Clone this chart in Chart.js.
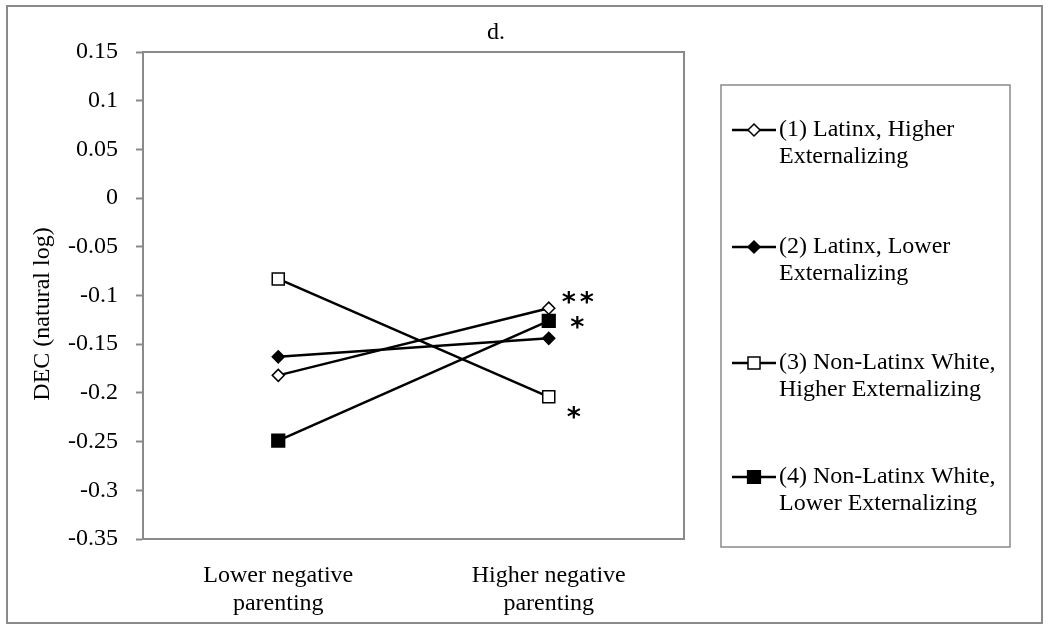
<!DOCTYPE html>
<html>
<head>
<meta charset="utf-8">
<title>d.</title>
<script src="https://cdn.jsdelivr.net/npm/chart.js@4.4.1/dist/chart.umd.min.js"></script>
<style>
  html, body { margin: 0; padding: 0; background: #fff; }
  canvas { display: block; }
</style>
</head>
<body>
<canvas id="chart" width="1050" height="633"></canvas>
<script>
// ── Data ───────────────────────────────────────────────────────────────────
const CATEGORIES = [["Lower negative", "parenting"], ["Higher negative", "parenting"]];

const LATINX_HIGHER_EXT    = [-0.182, -0.113];
const LATINX_LOWER_EXT     = [-0.163, -0.144];
const NONLATINX_HIGHER_EXT = [-0.083, -0.204];
const NONLATINX_LOWER_EXT  = [-0.249, -0.126];

const SERIES_LABELS = [
  ["(1) Latinx, Higher", "Externalizing"],
  ["(2) Latinx, Lower", "Externalizing"],
  ["(3) Non-Latinx White,", "Higher Externalizing"],
  ["(4) Non-Latinx White,", "Lower Externalizing"],
];

// significance marks at "Higher negative parenting"
const SIG_MARKS = ["**", "", "*", "*"];

const Y_TICKS       = [-0.35, -0.3, -0.25, -0.2, -0.15, -0.1, -0.05, 0, 0.05, 0.1, 0.15];
const Y_TICK_LABELS = ["-0.35", "-0.3", "-0.25", "-0.2", "-0.15", "-0.1", "-0.05", "0", "0.05", "0.1", "0.15"];

const CHART_TITLE = "d.";
const Y_TITLE = "DEC (natural log)";

// ── Styles ─────────────────────────────────────────────────────────────────
const SERIF = "'Liberation Serif', 'Times New Roman', serif";
const GRAY = "#8a8a8a";

const MARKERS = [
  { style: "rectRot", radius: 6,   fill: "#ffffff" },
  { style: "rectRot", radius: 6,   fill: "#000000" },
  { style: "rect",    radius: 8.5, fill: "#ffffff" },
  { style: "rect",    radius: 9,   fill: "#000000" },
];

const SERIES_DATA = [LATINX_HIGHER_EXT, LATINX_LOWER_EXT, NONLATINX_HIGHER_EXT, NONLATINX_LOWER_EXT];

function drawMarker(ctx, m, x, y) {
  ctx.save();
  ctx.beginPath();
  if (m.style === "rectRot") {
    ctx.moveTo(x, y - m.radius);
    ctx.lineTo(x + m.radius, y);
    ctx.lineTo(x, y + m.radius);
    ctx.lineTo(x - m.radius, y);
    ctx.closePath();
  } else {
    const s = m.radius * Math.SQRT1_2;
    ctx.rect(x - s, y - s, 2 * s, 2 * s);
  }
  ctx.fillStyle = m.fill;
  ctx.fill();
  ctx.lineWidth = 1.5;
  ctx.strokeStyle = "#000";
  ctx.stroke();
  ctx.restore();
}

// ── Decorations: frame, title, y title, legend, significance marks ──────────
const decorPlugin = {
  id: "decor",
  afterDraw(chart) {
    const ctx = chart.ctx;
    const a = chart.chartArea;
    ctx.save();

    // outer frame
    ctx.strokeStyle = GRAY;
    ctx.lineWidth = 2;
    ctx.strokeRect(7, 6, 1035, 617);

    // plot box top + right
    ctx.beginPath();
    ctx.moveTo(a.left, a.top);
    ctx.lineTo(a.right, a.top);
    ctx.lineTo(a.right, a.bottom);
    ctx.stroke();

    // title
    ctx.fillStyle = "#000";
    ctx.font = "24px " + SERIF;
    ctx.textAlign = "center";
    ctx.textBaseline = "alphabetic";
    ctx.fillText(CHART_TITLE, 496, 39);

    // y axis title
    ctx.textBaseline = "middle";
    ctx.save();
    ctx.translate(43, 314);
    ctx.rotate(-Math.PI / 2);
    ctx.fillText(Y_TITLE, 0, 0);
    ctx.restore();

    // legend
    const box = { left: 721, top: 85, right: 1010, bottom: 547 };
    ctx.strokeStyle = GRAY;
    ctx.lineWidth = 1.5;
    ctx.strokeRect(box.left, box.top, box.right - box.left, box.bottom - box.top);
    const itemTops = [130, 247, 363, 477];
    ctx.textAlign = "left";
    chart.data.datasets.forEach((ds, i) => {
      const y = itemTops[i];
      ctx.beginPath();
      ctx.strokeStyle = "#000";
      ctx.lineWidth = 2.5;
      ctx.moveTo(732, y);
      ctx.lineTo(776, y);
      ctx.stroke();
      drawMarker(ctx, MARKERS[i], 754, y);
      SERIES_LABELS[i].forEach((line, j) => {
        ctx.fillText(line, 779, y + j * 27);
      });
    });

    // significance marks next to the "higher" points
    const offsets = [[20, -11], [28, 0], [25, 15], [28.5, 1.5]];
    ctx.font = "bold 27px 'DejaVu Sans', sans-serif";
    ctx.textAlign = "center";
    ctx.textBaseline = "alphabetic";
    SIG_MARKS.forEach((mark, i) => {
      if (!mark) return;
      const pt = chart.getDatasetMeta(i).data[1];
      mark.split("").forEach((ch, k) => {
        ctx.fillText(ch, pt.x + offsets[i][0] + k * 18, pt.y + offsets[i][1] + 14);
      });
    });

    ctx.restore();
  },
};

// ── Chart ──────────────────────────────────────────────────────────────────
const datasets = SERIES_DATA.map((values, i) => ({
  label: SERIES_LABELS[i].join(" "),
  data: values,
  borderColor: "#000",
  borderWidth: 2.5,
  tension: 0,
  pointStyle: MARKERS[i].style,
  pointRadius: MARKERS[i].radius,
  pointBackgroundColor: MARKERS[i].fill,
  pointBorderColor: "#000",
  pointBorderWidth: 1.5,
}));

new Chart(document.getElementById("chart"), {
  type: "line",
  data: { labels: CATEGORIES, datasets },
  options: {
    responsive: false,
    animation: false,
    layout: { padding: { left: 0, top: 52, right: 366, bottom: 0 } },
    plugins: {
      legend: { display: false },
      tooltip: { enabled: false },
    },
    scales: {
      x: {
        offset: true,
        afterFit: s => { s.height = 94; },
        grid: { display: true, drawOnChartArea: false, drawTicks: false },
        border: { display: true, color: GRAY, width: 2 },
        ticks: {
          color: "#000",
          padding: 23,
          maxRotation: 0,
          font: { family: SERIF, size: 24, lineHeight: 1.15 },
        },
      },
      y: {
        min: -0.35,
        max: 0.15,
        afterFit: s => { s.width = 143; },
        afterBuildTicks: s => { s.ticks = Y_TICKS.map(v => ({ value: v })); },
        grid: { display: true, drawOnChartArea: false, drawTicks: true, tickLength: 7, color: GRAY, tickWidth: 2 },
        border: { display: true, color: GRAY, width: 2 },
        ticks: {
          color: "#000",
          padding: 18,
          font: { family: SERIF, size: 24 },
          callback: (v, i) => Y_TICK_LABELS[i],
        },
      },
    },
  },
  plugins: [decorPlugin],
});
</script>
</body>
</html>
